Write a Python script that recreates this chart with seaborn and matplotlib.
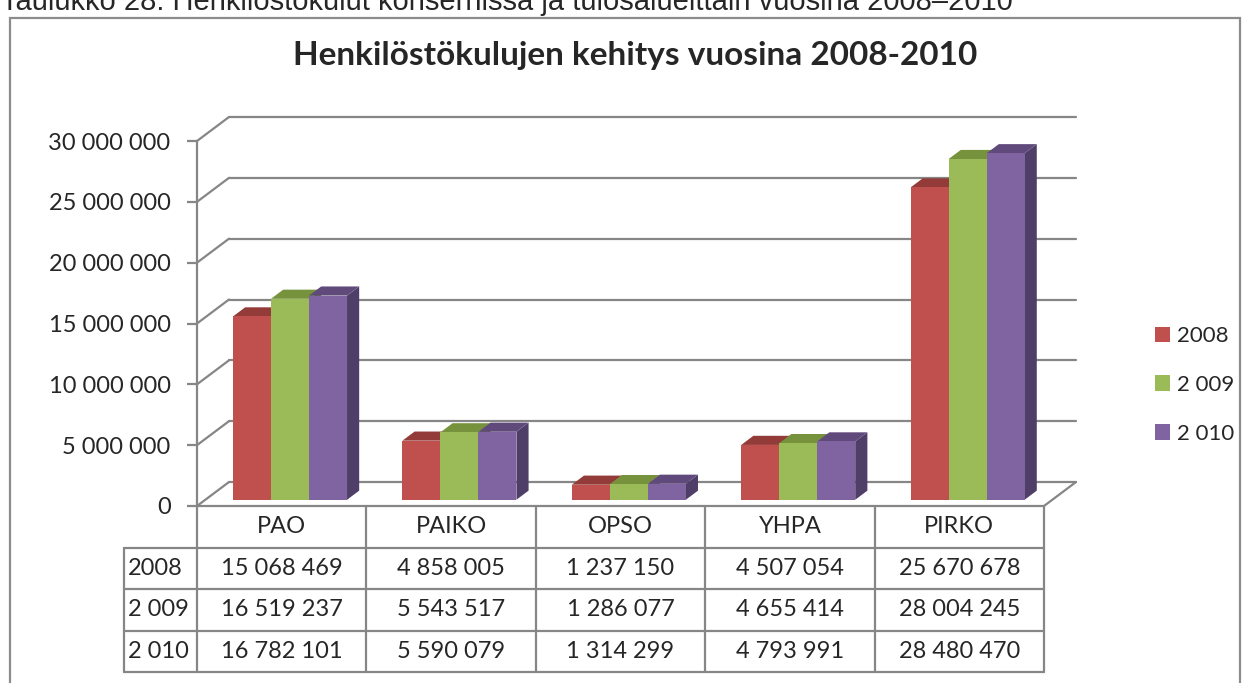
import matplotlib
matplotlib.use("Agg")
import matplotlib.pyplot as plt
import seaborn as sns
import pandas as pd
import numpy as np
from matplotlib.patches import Polygon, Rectangle, Patch
from matplotlib.lines import Line2D

# ---------------- data ----------------
categories = ["PAO", "PAIKO", "OPSO", "YHPA", "PIRKO"]
year_labels = ["2008", "2 009", "2 010"]
values_2008 = [15068469, 4858005, 1237150, 4507054, 25670678]
values_2009 = [16519237, 5543517, 1286077, 4655414, 28004245]
values_2010 = [16782101, 5590079, 1314299, 4793991, 28480470]
yticks = [0, 5000000, 10000000, 15000000, 20000000, 25000000, 30000000]
title = "Henkilöstökulujen kehitys vuosina 2008-2010"
caption = "Taulukko 28. Henkilöstökulut konsernissa ja tulosalueittain vuosina 2008–2010"

front_colors = ["#C0504D", "#9BBB59", "#8064A2"]
top_colors = ["#923B39", "#76923C", "#604A7B"]
side_colors = ["#7F302E", "#617A30", "#4F3E67"]
grid_col = "#868686"

series = [values_2008, values_2009, values_2010]
df = pd.DataFrame({
    "category": categories * 3,
    "year": sum([[y] * len(categories) for y in year_labels], []),
    "value": values_2008 + values_2009 + values_2010,
})

def fmt(v):
    return f"{v:,.0f}".replace(",", " ")

# ---------------- figure ----------------
sns.set_theme(style="white")
plt.rcParams["font.family"] = ["Lato", "DejaVu Sans"]

W, H = 1243, 683
fig = plt.figure(figsize=(W / 100, H / 100), dpi=100)
ax = fig.add_axes([197 / W, 1 - 506 / H, 847 / W, 365 / H])

sns.barplot(data=df, x="category", y="value", hue="year", order=categories,
            hue_order=year_labels, palette=front_colors, width=0.673,
            saturation=1, gap=0, ax=ax, legend=True, errorbar=None)

ax.set_xlim(-0.5, 4.5)
ax.set_ylim(0, 30000000)

# depth geometry (oblique projection) in data units
px_per_cat = 847 / 5
DX = 32 / px_per_cat
DY = 24 / 365 * 30000000
f0 = 0.26   # bar front position in depth
d = 0.38    # bar depth

# back wall grid, left wall diagonals, floor
for v in yticks:
    ax.add_line(Line2D([-0.5 + DX, 4.5 + DX], [v + DY, v + DY], color=grid_col,
                       lw=1.6, zorder=1, clip_on=False))
    ax.add_line(Line2D([-0.5, -0.5 + DX], [v, v + DY], color=grid_col,
                       lw=1.6, zorder=1, clip_on=False))
ax.add_line(Line2D([4.5, 4.5 + DX], [0, DY], color=grid_col, lw=1.6, zorder=1, clip_on=False))

# transform bars to 3D look
for i, cont in enumerate(ax.containers):
    for r in cont.patches:
        x0 = r.get_x() + f0 * DX
        w = r.get_width()
        h = r.get_height()
        y0 = f0 * DY
        r.set_x(x0)
        r.set_y(y0)
        r.set_zorder(3 + i * 3)
        r.set_clip_on(False)
        r.set_edgecolor("none")
        top = y0 + h
        ddx, ddy = d * DX, d * DY
        side = Polygon([(x0 + w, y0), (x0 + w + ddx, y0 + ddy), (x0 + w + ddx, top + ddy), (x0 + w, top)],
                       closed=True, facecolor=side_colors[i], edgecolor="none",
                       zorder=2 + i * 3, clip_on=False)
        topp = Polygon([(x0, top), (x0 + w, top), (x0 + w + ddx, top + ddy), (x0 + ddx, top + ddy)],
                       closed=True, facecolor=top_colors[i], edgecolor="none",
                       zorder=2 + i * 3, clip_on=False)
        ax.add_patch(side)
        ax.add_patch(topp)

# axes styling
for s in ["top", "right", "bottom"]:
    ax.spines[s].set_visible(False)
ax.spines["left"].set_color(grid_col)
ax.spines["left"].set_linewidth(1.6)
ax.set_yticks(yticks)
ax.set_yticklabels([fmt(v) for v in yticks], fontsize=17)
ax.tick_params(axis="y", length=7, width=1.6, color=grid_col, pad=12, left=True)
ax.set_xticks([])
ax.set_xlabel("")
ax.set_ylabel("")
ax.patch.set_alpha(0)

# ---------------- data table ----------------
row_h = 41.5 / 365
trans = ax.get_xaxis_transform()
lab_left = -0.5 - 73 / px_per_cat
ys = [0, -row_h, -2 * row_h, -3 * row_h, -4 * row_h]
lw = 1.6
ax.add_line(Line2D([-0.5, 4.5], [0, 0], transform=trans, color=grid_col, lw=lw, clip_on=False))
for k in range(1, 5):
    ax.add_line(Line2D([lab_left, 4.5], [ys[k], ys[k]], transform=trans, color=grid_col, lw=lw, clip_on=False))
for c in range(6):
    xc = -0.5 + c
    ax.add_line(Line2D([xc, xc], [0, ys[4]], transform=trans, color=grid_col, lw=lw, clip_on=False))
ax.add_line(Line2D([lab_left, lab_left], [ys[1], ys[4]], transform=trans, color=grid_col, lw=lw, clip_on=False))

for c, cat in enumerate(categories):
    ax.text(c, -0.5 * row_h, cat, transform=trans, ha="center", va="center", fontsize=17)
for r_i, (yl, vals) in enumerate(zip(year_labels, series)):
    yc = -(r_i + 1.5) * row_h
    ax.text(lab_left + 4 / px_per_cat, yc, yl, transform=trans, ha="left", va="center", fontsize=17)
    for c, v in enumerate(vals):
        ax.text(c, yc, fmt(v), transform=trans, ha="center", va="center", fontsize=17)

# ---------------- legend ----------------
if ax.get_legend() is not None:
    ax.get_legend().remove()
handles = [Patch(facecolor=c, edgecolor="none") for c in front_colors]
fig.legend(handles, year_labels, loc="center left", bbox_to_anchor=(1146 / W, 1 - 385 / H),
           frameon=False, fontsize=16, handlelength=0.7, handleheight=0.7,
           handletextpad=0.3, labelspacing=1.3, borderaxespad=0)

# ---------------- title, caption, frame ----------------
fig.text(0.5 * (285 + 985) / W, 1 - 55 / H, title, ha="center", va="center",
         fontsize=24, fontweight="bold")
fig.text(1 / W, 1 - 10 / H, caption, ha="left", va="baseline", fontsize=21,
         family=["Liberation Sans", "DejaVu Sans"])
fig.patches.append(Rectangle((10 / W, -0.05), 1230 / W, 1 - 18 / H + 0.05,
                             transform=fig.transFigure, fill=False,
                             edgecolor="#8c8c8c", lw=1.6))

fig.savefig("out.png", dpi=100)
